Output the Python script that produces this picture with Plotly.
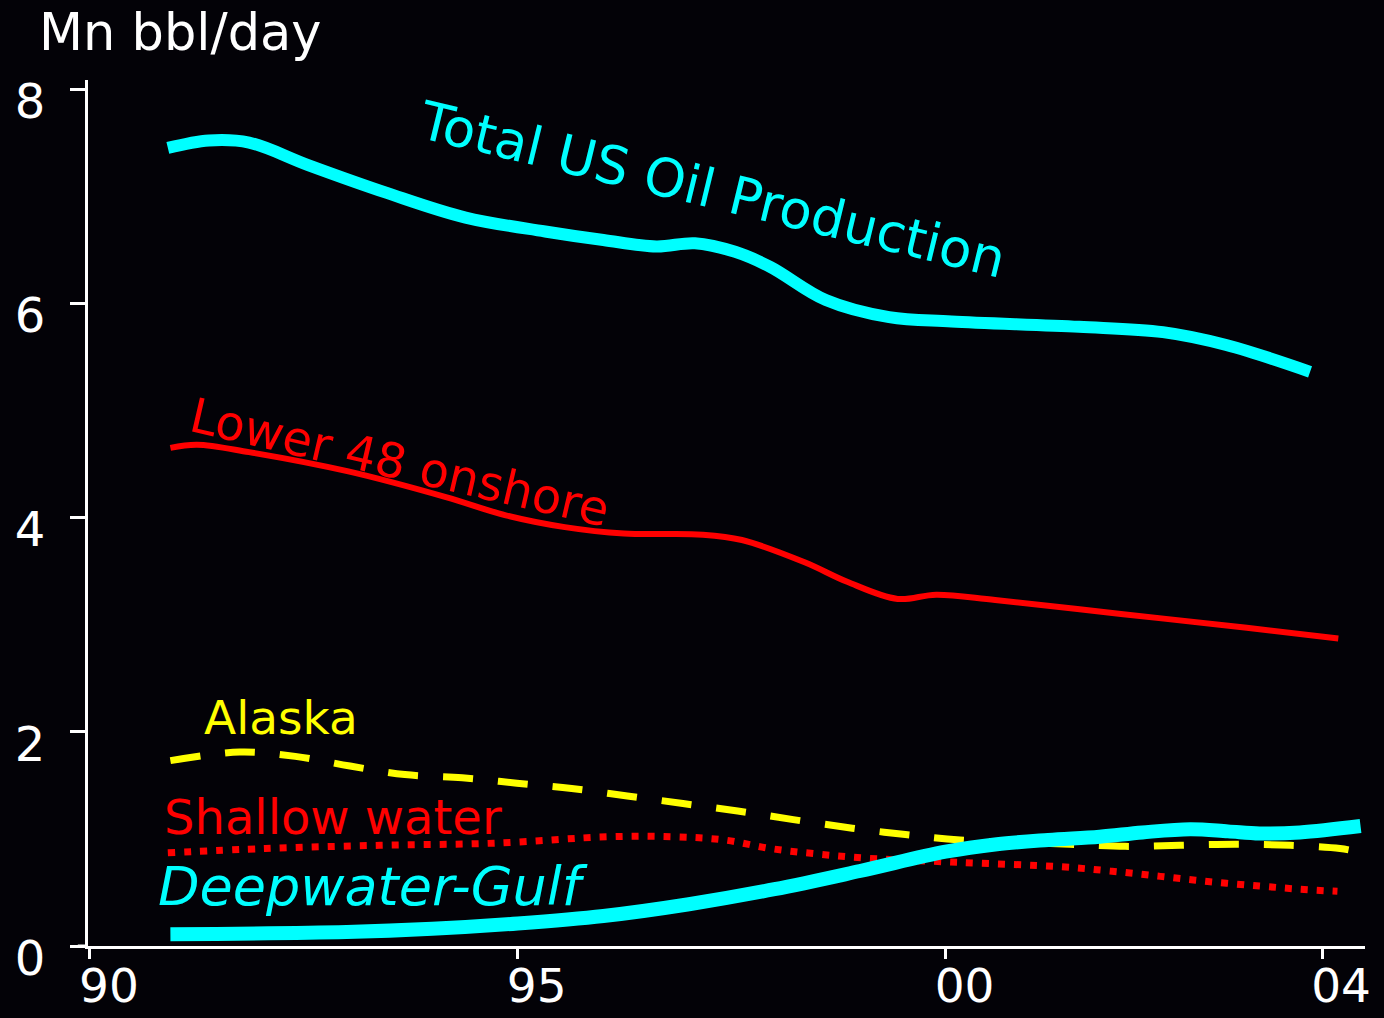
import plotly.graph_objects as go

# --- data (years, Mn bbl/day) ---
total_years = [1990.91, 1991.39, 1991.86, 1992.55, 1993.47, 1994.39, 1995.32, 1996.0, 1996.62,
               1997.07, 1997.54, 1997.95, 1998.6, 1999.34, 2000.07, 2001.56, 2002.54, 2003.28, 2004.26]
total_vals = [7.45, 7.52, 7.50, 7.29, 7.03, 6.80, 6.67, 6.59, 6.53,
              6.56, 6.48, 6.34, 6.03, 5.87, 5.83, 5.78, 5.73, 5.61, 5.36]

lower48_years = [1990.94, 1991.25, 1991.86, 1993.02, 1994.16, 1994.86, 1995.55, 1996.24, 1997.16,
                 1997.62, 1998.36, 1998.85, 1999.44, 1999.89, 2000.58, 2002.05, 2003.52, 2004.59]
lower48_vals = [4.65, 4.68, 4.61, 4.43, 4.19, 4.02, 3.91, 3.85, 3.84,
                3.79, 3.58, 3.40, 3.24, 3.28, 3.23, 3.10, 2.97, 2.87]

alaska_years = [1990.94, 1991.75, 1992.4, 1993.04, 1993.68, 1994.35, 1994.99, 1995.63, 1996.28,
                1996.93, 1997.57, 1998.22, 1998.91, 1999.53, 2000.17, 2001.45, 2002.1, 2002.74,
                2003.38, 2004.03, 2004.61, 2004.81]
alaska_vals = [1.73, 1.81, 1.77, 1.68, 1.60, 1.57, 1.52, 1.47, 1.40,
               1.33, 1.26, 1.18, 1.10, 1.04, 0.99, 0.95, 0.93, 0.94,
               0.95, 0.94, 0.91, 0.88]

shallow_years = [1990.91, 1992.05, 1993.39, 1994.72, 1996.07, 1996.81, 1997.41, 1997.95, 1998.49,
                 1999.07, 2000.17, 2001.34, 2001.92, 2002.51, 2003.09, 2003.67, 2004.14, 2004.58]
shallow_vals = [0.87, 0.91, 0.94, 0.96, 1.02, 1.02, 0.99, 0.91, 0.86,
                0.82, 0.78, 0.74, 0.70, 0.65, 0.60, 0.56, 0.53, 0.51]

deep_years = [1990.94, 1993.0, 1994.0, 1995.0, 1996.0, 1997.0, 1998.0, 1999.0, 2000.0,
              2000.6, 2001.2, 2001.8, 2002.3, 2002.86, 2003.3, 2003.67, 2004.14, 2004.85]
deep_vals = [0.11, 0.13, 0.16, 0.21, 0.28, 0.39, 0.53, 0.70, 0.88,
             0.95, 0.99, 1.02, 1.06, 1.09, 1.07, 1.05, 1.06, 1.12]

x_tickvals = [1990, 1995, 2000, 2004.4]
x_ticktext = ["90", "95", "00", "04"]
y_tickvals = [0, 2, 4, 6, 8]

CYAN = "#00FFFF"
RED = "#FF0000"
YELLOW = "#FFFF00"
BG = "#030207"
FONT = "DejaVu Sans"

fig = go.Figure()
fig.add_trace(go.Scatter(x=total_years, y=total_vals, mode="lines",
                         line=dict(color=CYAN, width=12, shape="spline")))
fig.add_trace(go.Scatter(x=lower48_years, y=lower48_vals, mode="lines",
                         line=dict(color=RED, width=6, shape="spline")))
fig.add_trace(go.Scatter(x=alaska_years, y=alaska_vals, mode="lines",
                         line=dict(color=YELLOW, width=7, shape="spline", dash="30px,25px")))
fig.add_trace(go.Scatter(x=shallow_years, y=shallow_vals, mode="lines",
                         line=dict(color=RED, width=7, shape="spline", dash="7px,9px")))
fig.add_trace(go.Scatter(x=deep_years, y=deep_vals, mode="lines",
                         line=dict(color=CYAN, width=14, shape="spline")))

# series labels
labels = [
    ("Total US Oil Production", 1997.28, 7.06, CYAN, 53, 13.6, False),
    ("Lower 48 onshore", 1993.62, 4.52, RED, 48, 13, False),
    ("Alaska", 1992.23, 2.13, YELLOW, 47, 0, False),
    ("Shallow water", 1992.84, 1.20, RED, 48, 0, False),
    ("Deepwater-Gulf", 1993.31, 0.56, CYAN, 54, 0, True),
]
for txt, x, y, col, size, ang, ital in labels:
    fig.add_annotation(x=x, y=y, text=txt, showarrow=False, textangle=ang,
                       font=dict(family=FONT, size=size, color=col,
                                 style="italic" if ital else "normal"),
                       xanchor="center", yanchor="middle")

fig.add_annotation(x=0.072, y=1.055, xref="paper", yref="paper", text="Mn bbl/day",
                   showarrow=False, font=dict(family=FONT, size=51, color="white"),
                   xanchor="center", yanchor="middle")

# x axis line runs a little past the y axis on the left
fig.add_shape(type="line", xref="paper", yref="y", x0=-0.008, x1=0, y0=0, y1=0,
              line=dict(color="white", width=3))

fig.update_layout(
    width=1384, height=1018,
    paper_bgcolor=BG, plot_bgcolor=BG,
    showlegend=False,
    margin=dict(l=88, r=19, t=80, b=72),
    font=dict(family=FONT, color="white"),
    xaxis=dict(range=[1989.977, 2004.902], tickvals=x_tickvals, ticktext=x_ticktext,
               showgrid=False, zeroline=False, showline=True, linecolor="white", linewidth=3,
               ticks="outside", ticklen=10, tickwidth=3, tickcolor="white", automargin=False,
               tickfont=dict(size=47, color="white"), ticklabelshift=19, ticklabelstandoff=-13),
    yaxis=dict(range=[0, 8.084], tickvals=y_tickvals,
               showgrid=False, zeroline=False, showline=True, linecolor="white", linewidth=3,
               ticks="outside", ticklen=15, tickwidth=3, tickcolor="white", automargin=False,
               tickfont=dict(size=48, color="white"), ticklabelshift=12, ticklabelstandoff=15),
)

fig.write_html("out.html", config={"displayModeBar": False},
               post_script="document.body.style.margin='0';document.body.style.background='%s';" % BG)
